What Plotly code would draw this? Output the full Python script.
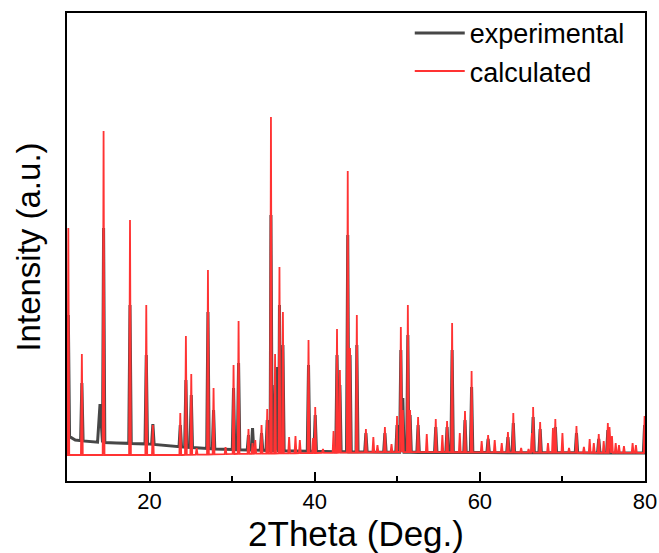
import numpy as np
import plotly.graph_objects as go

# ---- data ----
# calculated pattern: peak positions (2theta, deg) and peak tops (a.u.)
calc_pos = [10.16, 11.80, 14.43, 17.63, 19.60, 20.40, 23.72, 24.40, 25.05, 25.70,
            27.07, 27.75, 29.20, 30.17, 30.78, 31.98, 32.47, 32.80, 33.56, 34.25,
            34.70, 35.20, 35.73, 36.15, 36.90, 37.67, 38.20, 39.25, 39.80, 40.06,
            41.00, 42.28, 42.70, 43.05, 44.00, 44.28, 45.10, 46.20, 47.10, 47.60,
            48.50, 49.30, 49.97, 50.43, 50.67, 51.28, 51.55, 52.52, 53.57, 54.66,
            55.46, 56.03, 56.64, 57.57, 58.20, 59.00, 60.22, 61.00, 61.80, 62.65,
            63.40, 64.05, 65.00, 65.90, 66.30, 66.45, 67.30, 68.25, 68.85, 69.14,
            70.00, 70.80, 71.70, 72.60, 73.30, 73.80, 74.40, 75.00, 75.50, 75.70,
            76.00, 76.45, 76.85, 77.45, 78.50, 78.90, 79.95]
calc_top = [227, 101, 324, 235, 150, 30, 42, 119, 81, 7,
            185, 67, 8, 90, 134, 26, 12, 15, 30, 46,
            338, 101, 188, 143, 18, 19, 15, 115, 17, 48,
            6, 24, 126, 85, 284, 107, 140, 26, 18, 10,
            28, 11, 39, 128, 45, 150, 45, 38, 21, 36,
            20, 34, 132, 22, 44, 84, 14, 20, 15, 12,
            23, 42, 7, 6, 22, 48, 33, 12, 27, 36,
            22, 7, 29, 8, 16, 12, 21, 14, 32, 28,
            19, 12, 10, 9, 12, 10, 39]
# calculated pattern background
calc_bg_x = [10, 24, 30, 40, 50, 80]
calc_bg_y = [0, 0, 1, 2, 3, 2]

# experimental pattern: peak positions and peak tops (a.u.)
exp_pos = [10.16, 11.80, 14.00, 14.43, 17.63, 19.60, 20.40, 23.72, 24.40, 25.05,
           27.07, 27.75, 30.17, 30.78, 31.98, 32.47, 33.56, 34.25, 34.45, 34.70,
           35.20, 35.50, 35.73, 36.15, 39.25, 40.06, 42.70, 43.05, 44.00, 44.28,
           45.10, 46.20, 48.50, 49.97, 50.43, 50.67, 51.28, 51.55, 52.52, 54.66,
           56.03, 56.64, 58.20, 59.00, 61.00, 63.40, 64.05, 66.45, 67.30, 69.14,
           71.70, 74.40, 75.50, 79.95]
exp_top = [140, 72, 51, 227, 150, 100, 31, 30, 75, 60,
           143, 45, 67, 92, 20, 27, 22, 35, 35, 240,
           70, 88, 150, 110, 90, 40, 100, 70, 220, 100,
           110, 22, 22, 30, 105, 57, 120, 40, 30, 28,
           28, 105, 35, 68, 16, 18, 32, 38, 26, 28,
           22, 16, 25, 30]
exp_width = [0.15] * len(exp_pos)
exp_width[2] = 0.30
# experimental background
exp_bg_x = [10, 11, 13, 16, 20, 24, 28, 32, 38, 45, 55, 80]
exp_bg_y = [20, 15, 13, 12, 11, 8, 6, 5, 4, 3, 2.5, 2]

x_ticks = [20, 40, 60, 80]
x_minor = [30, 50, 70]

RED = "#FF3333"
GRAY = "#474747"


def profile(pos, top, widths, bg_x, bg_y):
    pts = [(bg_x[0], bg_y[0]), (bg_x[-1], bg_y[-1])]
    for p, t, w in zip(pos, top, widths):
        pts.append((p - w, float(np.interp(p - w, bg_x, bg_y))))
        pts.append((p, t))
        pts.append((p + w, float(np.interp(p + w, bg_x, bg_y))))
    for bx, by in zip(bg_x, bg_y):
        pts.append((bx, by))
    pts.sort(key=lambda q: q[0])
    return [q[0] for q in pts], [q[1] for q in pts]


ex, ey = profile(exp_pos, exp_top, exp_width, exp_bg_x, exp_bg_y)
cx, cy = profile(calc_pos, calc_top, [0.11] * len(calc_pos), calc_bg_x, calc_bg_y)

fig = go.Figure()
fig.add_trace(go.Scatter(x=ex, y=ey, mode="lines", name="experimental",
                         line=dict(color=GRAY, width=3)))
fig.add_trace(go.Scatter(x=cx, y=cy, mode="lines", name="calculated",
                         line=dict(color=RED, width=1.8)))

FONT = "Arial, Liberation Sans, sans-serif"
fig.update_layout(
    width=659, height=553,
    margin=dict(l=67, r=14, t=13, b=72, autoexpand=False),
    paper_bgcolor="white", plot_bgcolor="white",
    font=dict(family=FONT, color="black"),
    legend=dict(x=0.593, y=0.984, xanchor="left", yanchor="top",
                yref="container",
                bgcolor="rgba(0,0,0,0)", borderwidth=0,
                font=dict(size=27, family=FONT), itemwidth=50,
                tracegroupgap=0),
    xaxis=dict(range=[10, 80], tickvals=x_ticks, ticks="inside", ticklen=9,
               tickwidth=1.5, tickcolor="black", automargin=False,
               minor=dict(tickvals=x_minor, ticks="inside", ticklen=5,
                          tickwidth=1.5, tickcolor="black"),
               showline=True, linecolor="black", linewidth=2, mirror=True,
               showgrid=False, zeroline=False,
               tickfont=dict(size=22, family=FONT),
               title=dict(text="2Theta (Deg.)", font=dict(size=35, family=FONT),
                          standoff=8)),
    yaxis=dict(range=[-26, 442], showticklabels=False, ticks="",
               automargin=False,
               showline=True, linecolor="black", linewidth=2, mirror=True,
               showgrid=False, zeroline=False,
               title=dict(text="Intensity (a.u.)", font=dict(size=33, family=FONT),
                          standoff=14)),
)

fig.write_html("out.html")
